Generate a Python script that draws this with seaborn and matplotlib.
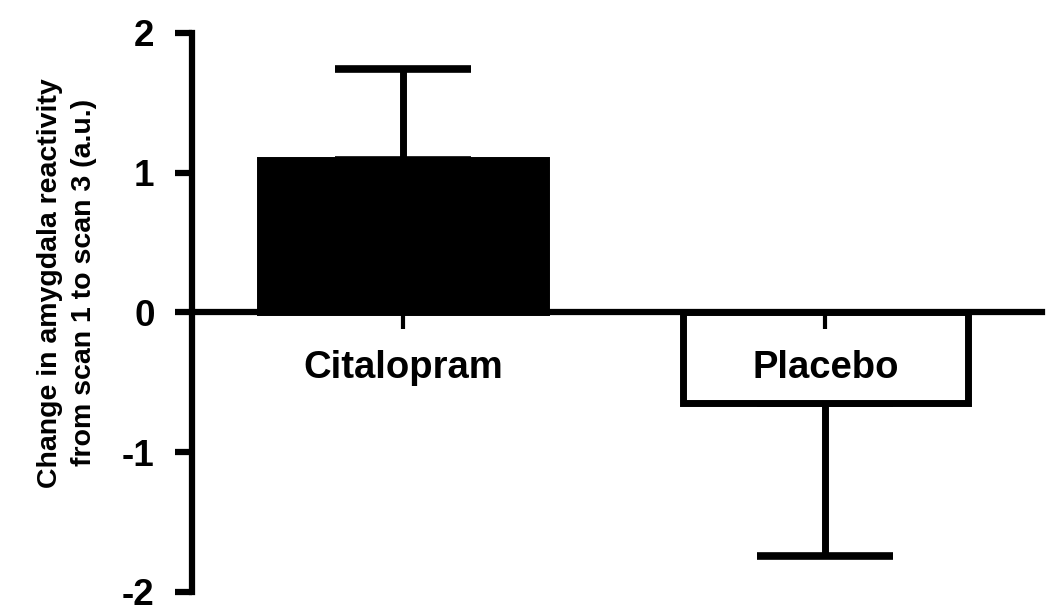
import numpy as np
import pandas as pd
import matplotlib
matplotlib.use('Agg')
import matplotlib.pyplot as plt
import seaborn as sns

# datos
grupos = ['Citalopram', 'Placebo']
medias = [1.09, -0.645]
err_sup = [0.65, 0.0]
err_inf = [0.0, 1.10]
colores = ['black', 'white']

sns.set_style('ticks')
plt.rcParams['font.family'] = ['Liberation Sans', 'DejaVu Sans']
plt.rcParams['font.weight'] = 'bold'

df = pd.DataFrame({'Grupo': grupos, 'Cambio': medias})

fig = plt.figure(figsize=(10.5, 6.15), dpi=100)
ax = fig.add_axes([0.1829, 0.0374, 0.8095, 0.909])

sns.barplot(data=df, x='Grupo', y='Cambio', hue='Grupo', palette=colores,
            edgecolor='black', linewidth=5, width=0.676, errorbar=None,
            legend=False, ax=ax, zorder=2)

ax.errorbar(np.arange(len(grupos)), medias, yerr=[err_inf, err_sup], fmt='none',
            ecolor='black', elinewidth=5, capsize=49, capthick=5.5, zorder=1)

# ejes por encima de las barras para que se vea la etiqueta "Placebo"
ax.set_axisbelow(False)

ax.set_ylim(-2, 2)
ax.set_xlim(-0.5, 1.513)
ax.set_yticks([-2, -1, 0, 1, 2])
ax.set_yticklabels(['-2', '-1', '0', '1', '2'])

sns.despine(ax=ax)
ax.spines['bottom'].set_position(('data', 0))
for s in ['left', 'bottom']:
    ax.spines[s].set_linewidth(4.5)
    ax.spines[s].set_color('black')

ax.tick_params(axis='y', length=12, width=4.5, pad=15, labelsize=26.5, colors='black')
ax.tick_params(axis='x', length=12, width=3, pad=15, labelsize=27.5, colors='black')
for lab in ax.get_xticklabels() + ax.get_yticklabels():
    lab.set_fontweight('bold')

ax.set_xlabel('')
ax.set_ylabel('Change in amygdala reactivity\nfrom scan 1 to scan 3 (a.u.)',
              fontsize=20.5, fontweight='bold', color='black', linespacing=1.4)
# la etiqueta esta algo desplazada hacia arriba en el original
ax.yaxis.set_label_coords(-0.112, 0.553)

plt.savefig('out.png', dpi=100)
plt.close()
